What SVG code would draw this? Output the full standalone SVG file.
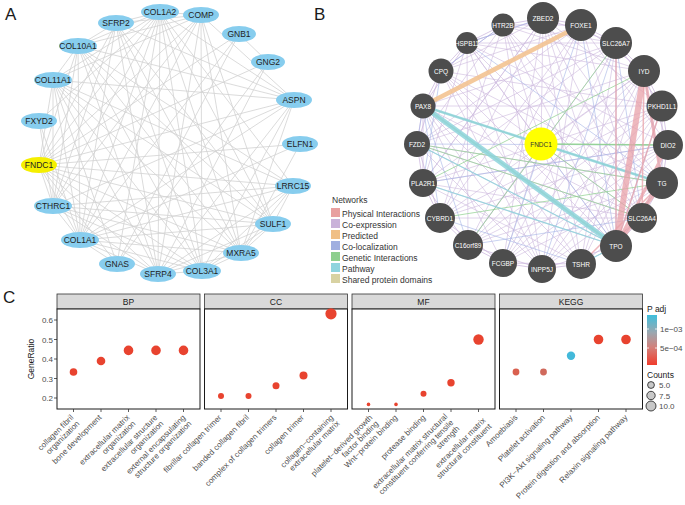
<svg xmlns="http://www.w3.org/2000/svg" width="685" height="505" viewBox="0 0 685 505">
<style>
text{font-family:"Liberation Sans",Arial,sans-serif}
.pl{font-size:17px;fill:#1a1a1a}
.ea{stroke:#d2d2d2;stroke-width:0.8;fill:none}
.na{fill:#87cdee}
.ta{font-size:8.5px;fill:#222;text-anchor:middle}
.nb{fill:#4d4d4d}
.tb{font-size:6.5px;fill:#fff;text-anchor:middle}
.lg{font-size:8.5px;fill:#333}
.ax{font-size:8px;fill:#4d4d4d}
.xl{font-size:8px;fill:#4d4d4d;text-anchor:end}
.strip{fill:#d9d9d9;stroke:#333;stroke-width:0.8}
.panel{fill:#fff;stroke:#1a1a1a;stroke-width:1}
.st{font-size:8.5px;fill:#1a1a1a;text-anchor:middle}
.tk{stroke:#333;stroke-width:0.8}
.pt{fill:#e8432f}
</style>
<defs>
<linearGradient id="pg" x1="0" y1="0" x2="0" y2="1">
<stop offset="0" stop-color="#3fbfdc"/>
<stop offset="0.35" stop-color="#9aa7b0"/>
<stop offset="0.65" stop-color="#d3807a"/>
<stop offset="1" stop-color="#f03c2c"/>
</linearGradient>
</defs>
<rect width="685" height="505" fill="#fff"/>
<text class="pl" x="5" y="20">A</text>
<text class="pl" x="314" y="20">B</text>
<text class="pl" x="3" y="303">C</text>

<!-- Panel A connectors -->
<g id="edges-a" class="ea">
<path d="M160 12L201 15M160 12L116 23M160 12L78 46M160 12L53 80M160 12L39 165M160 12L53 206M160 12L80 240M160 12L117 264M160 12L158 274M160 12L202 271M160 12L241 253M160 12L273 224M160 12L293 186M160 12L294 100M160 12L39 121"/>
<path d="M201 15L116 23M201 15L78 46M201 15L53 80M201 15L39 165M201 15L53 206M201 15L80 240M201 15L158 274M201 15L202 271M201 15L241 253M201 15L294 100M201 15L273 224"/>
<path d="M116 23L78 46M116 23L39 165M116 23L80 240M116 23L158 274M116 23L202 271M116 23L241 253M116 23L294 100M116 23L53 206M116 23L273 224"/>
<path d="M239 34L268 62M239 34L117 264M239 34L39 165M239 34L80 240M268 62L117 264M268 62L39 165M268 62L158 274"/>
<path d="M78 46L53 80M78 46L39 165M78 46L80 240M78 46L202 271M78 46L241 253M78 46L273 224M78 46L293 186M78 46L294 100M78 46L158 274M78 46L53 206"/>
<path d="M53 80L39 165M53 80L53 206M53 80L80 240M53 80L202 271M53 80L241 253M53 80L273 224M53 80L294 100M53 80L293 186M53 80L158 274M53 80L117 264"/>
<path d="M294 100L39 165M294 100L53 206M294 100L80 240M294 100L202 271M294 100L158 274M294 100L241 253"/>
<path d="M39 121L80 240M39 121L53 206M300 144L39 165M300 144L80 240M300 144L241 253"/>
<path d="M39 165L293 186M39 165L53 206M39 165L273 224M39 165L80 240M39 165L241 253M39 165L202 271M39 165L158 274M39 165L117 264"/>
<path d="M293 186L53 206M293 186L80 240M293 186L202 271M293 186L158 274M293 186L241 253M293 186L273 224"/>
<path d="M53 206L273 224M53 206L80 240M53 206L241 253M53 206L202 271M53 206L158 274"/>
<path d="M273 224L80 240M273 224L202 271M273 224L158 274M273 224L241 253M80 240L241 253M80 240L202 271M80 240L158 274M80 240L117 264M241 253L202 271M241 253L158 274M158 274L202 271"/>
</g>

<!-- Panel A nodes -->
<g id="a-COL1A2"><ellipse class="na" cx="160" cy="12" rx="19" ry="8"/><text class="ta" x="160" y="15">COL1A2</text></g>
<g id="a-COMP"><ellipse class="na" cx="201" cy="15" rx="18" ry="8"/><text class="ta" x="201" y="18">COMP</text></g>
<g id="a-SFRP2"><ellipse class="na" cx="116" cy="23" rx="18" ry="8"/><text class="ta" x="116" y="26">SFRP2</text></g>
<g id="a-GNB1"><ellipse class="na" cx="239" cy="34" rx="17" ry="8"/><text class="ta" x="239" y="37">GNB1</text></g>
<g id="a-COL10A1"><ellipse class="na" cx="78" cy="46" rx="19" ry="8"/><text class="ta" x="78" y="49">COL10A1</text></g>
<g id="a-GNG2"><ellipse class="na" cx="268" cy="62" rx="17" ry="8"/><text class="ta" x="268" y="65">GNG2</text></g>
<g id="a-COL11A1"><ellipse class="na" cx="53" cy="80" rx="19" ry="8"/><text class="ta" x="53" y="83">COL11A1</text></g>
<g id="a-ASPN"><ellipse class="na" cx="294" cy="100" rx="18" ry="8"/><text class="ta" x="294" y="103">ASPN</text></g>
<g id="a-FXYD2"><ellipse class="na" cx="39" cy="121" rx="18" ry="8"/><text class="ta" x="39" y="124">FXYD2</text></g>
<g id="a-ELFN1"><ellipse class="na" cx="300" cy="144" rx="18" ry="8"/><text class="ta" x="300" y="147">ELFN1</text></g>
<g id="a-FNDC1"><ellipse cx="39" cy="165" rx="18" ry="8" fill="#f5ef00"/><text class="ta" x="39" y="168">FNDC1</text></g>
<g id="a-LRRC15"><ellipse class="na" cx="293" cy="186" rx="18" ry="8"/><text class="ta" x="293" y="189">LRRC15</text></g>
<g id="a-CTHRC1"><ellipse class="na" cx="53" cy="206" rx="19" ry="8"/><text class="ta" x="53" y="209">CTHRC1</text></g>
<g id="a-SULF1"><ellipse class="na" cx="273" cy="224" rx="18" ry="8"/><text class="ta" x="273" y="227">SULF1</text></g>
<g id="a-COL1A1"><ellipse class="na" cx="80" cy="240" rx="19" ry="8"/><text class="ta" x="80" y="243">COL1A1</text></g>
<g id="a-MXRA5"><ellipse class="na" cx="241" cy="253" rx="18" ry="8"/><text class="ta" x="241" y="256">MXRA5</text></g>
<g id="a-GNAS"><ellipse class="na" cx="117" cy="264" rx="18" ry="8"/><text class="ta" x="117" y="267">GNAS</text></g>
<g id="a-SFRP4"><ellipse class="na" cx="158" cy="274" rx="18" ry="8"/><text class="ta" x="158" y="277">SFRP4</text></g>
<g id="a-COL3A1"><ellipse class="na" cx="202" cy="271" rx="19" ry="8"/><text class="ta" x="202" y="274">COL3A1</text></g>

<!-- Panel B connectors -->
<g id="edges-b" fill="none">
<path stroke="#cdb8de" stroke-width="0.7" opacity="0.85" d="M503 25L616 43M503 25L642 218M503 25L542 269M503 25L440 218M503 25L417 144M503 25L616 246M543 18L503 263M543 18L440 218M543 18L662 183M543 18L581 264M543 18L441 71M543 18L423 183M581 25L542 269M581 25L468 245M581 25L417 144M581 25L642 218M581 25L441 71M616 43L503 263M616 43L423 183M616 43L423 106M616 43L467 43M616 43L581 264M644 71L468 245M644 71L417 144M644 71L467 43M644 71L542 269M644 71L503 25M662 106L440 218M662 106L441 71M662 106L503 263M662 106L543 18M662 106L581 264M668 145L423 183M668 145L467 43M668 145L468 245M668 145L581 25M668 145L542 269M662 183L417 144M662 183L441 71M662 183L503 263M662 183L503 25M642 218L423 106M642 218L467 43M642 218L440 218M642 218L543 18M616 246L441 71M616 246L423 183M616 246L467 43M616 246L543 18M581 264L423 106M581 264L423 183M581 264L503 25M581 264L644 71M542 269L441 71M542 269L417 144M542 269L662 183M542 269L662 106M503 263L644 71M503 263L423 106M503 263L668 145M468 245L616 43M468 245L662 106M468 245L662 183M440 218L581 25M440 218L668 145M440 218L644 71M423 183L662 106M423 183L543 18M423 183L642 218M417 144L616 43M417 144L642 218M417 144L616 246M423 106L662 106M423 106L542 269M441 71L581 264M441 71L642 218M467 43L542 269M467 43L468 245M467 43L423 183M541 144L543 18M541 144L467 43M541 144L468 245M541 144L644 71M541 144L503 263M541 144L423 106"/>
<path stroke="#cdb8de" stroke-width="0.9" opacity="0.85" d="M503 25L543 18L581 25L616 43L644 71L662 106L668 145L662 183L642 218L616 246L581 264L542 269L503 263L468 245L440 218L423 183L417 144L423 106L441 71L467 43Z M503 25L581 25M581 25L644 71M644 71L668 145M668 145L642 218M642 218L581 264M581 264L503 263M503 263L440 218M440 218L417 144M417 144L441 71M441 71L503 25M543 18L616 43M616 43L662 106M662 106L662 183M662 183L616 246M616 246L542 269M542 269L468 245M468 245L423 183M423 183L423 106M423 106L467 43M467 43L543 18"/>
<path stroke="#a3b3e6" stroke-width="0.7" opacity="0.85" d="M423 106L440 218M423 106L417 144M423 106L468 245M616 43L642 218M616 43L616 246M644 71L662 183M662 106L616 246M543 18L467 43M581 25L616 246M441 71L423 183M541 144L662 183M541 144L616 246M423 183L668 145M440 218L581 264M417 144L668 145M503 25L441 71M542 269L616 43M503 263L581 25M468 245L642 218M467 43L662 183"/>
<path stroke="#8fd18f" stroke-width="0.8" opacity="0.9" d="M423 106L662 183M541 144L668 145M417 144L662 183M440 218L662 183M423 183L644 71M468 245L616 43M642 218L417 144M541 144L642 218"/>
<path stroke="#8fd18f" stroke-width="1.6" opacity="0.7" d="M423 106L616 246M541 144L668 145"/>
<path stroke="#8ed3dc" stroke-width="5" opacity="0.85" d="M423 106L616 246"/>
<path stroke="#8ed3dc" stroke-width="2.5" opacity="0.85" d="M423 106L662 183M541 144L662 183"/>
<path stroke="#8ed3dc" stroke-width="1.2" opacity="0.85" d="M417 144L616 246M581 264L616 246M423 183L616 246"/>
<path stroke="#e8a0a8" stroke-width="6" opacity="0.75" d="M644 71L616 246"/>
<path stroke="#e8a0a8" stroke-width="4" opacity="0.75" d="M662 183L616 246"/>
<path stroke="#e8a0a8" stroke-width="3" opacity="0.75" d="M668 145L616 246M644 71L662 183"/>
<path stroke="#e8a0a8" stroke-width="1.5" opacity="0.75" d="M662 106L616 246M644 71L642 218M616 43L616 246M662 183L581 264"/>
<path stroke="#f3c391" stroke-width="4.5" opacity="0.9" d="M423 106L581 25"/>
</g>

<!-- Panel B nodes -->
<g id="b-FNDC1"><circle cx="541" cy="144" r="16.5" fill="#ffff00"/><text class="tb" x="541" y="146.5" fill="#333" style="fill:#333">FNDC1</text></g>
<g id="b-HTR2B"><circle class="nb" cx="503" cy="25" r="11.5"/><text class="tb" x="503" y="27.5">HTR2B</text></g>
<g id="b-ZBED2"><circle class="nb" cx="543" cy="18" r="16"/><text class="tb" x="543" y="20.5">ZBED2</text></g>
<g id="b-FOXE1"><circle class="nb" cx="581" cy="25" r="16"/><text class="tb" x="581" y="27.5">FOXE1</text></g>
<g id="b-SLC26A7"><circle class="nb" cx="616" cy="43" r="16"/><text class="tb" x="616" y="45.5">SLC26A7</text></g>
<g id="b-IYD"><circle class="nb" cx="644" cy="71" r="16"/><text class="tb" x="644" y="73.5">IYD</text></g>
<g id="b-PKHD1L1"><circle class="nb" cx="662" cy="106" r="15.5"/><text class="tb" x="662" y="108.5">PKHD1L1</text></g>
<g id="b-DIO2"><circle class="nb" cx="668" cy="145" r="15"/><text class="tb" x="668" y="147.5">DIO2</text></g>
<g id="b-TG"><circle class="nb" cx="662" cy="183" r="16"/><text class="tb" x="662" y="185.5">TG</text></g>
<g id="b-SLC26A4"><circle class="nb" cx="642" cy="218" r="15"/><text class="tb" x="642" y="220.5">SLC26A4</text></g>
<g id="b-TPO"><circle class="nb" cx="616" cy="246" r="16"/><text class="tb" x="616" y="248.5">TPO</text></g>
<g id="b-TSHR"><circle class="nb" cx="581" cy="264" r="15"/><text class="tb" x="581" y="266.5">TSHR</text></g>
<g id="b-INPP5J"><circle class="nb" cx="542" cy="269" r="14"/><text class="tb" x="542" y="271.5">INPP5J</text></g>
<g id="b-FCGBP"><circle class="nb" cx="503" cy="263" r="14"/><text class="tb" x="503" y="265.5">FCGBP</text></g>
<g id="b-C16orf89"><circle class="nb" cx="468" cy="245" r="15"/><text class="tb" x="468" y="247.5">C16orf89</text></g>
<g id="b-CYBRD1"><circle class="nb" cx="440" cy="218" r="15"/><text class="tb" x="440" y="220.5">CYBRD1</text></g>
<g id="b-PLA2R1"><circle class="nb" cx="423" cy="183" r="14"/><text class="tb" x="423" y="185.5">PLA2R1</text></g>
<g id="b-FZD2"><circle class="nb" cx="417" cy="144" r="13"/><text class="tb" x="417" y="146.5">FZD2</text></g>
<g id="b-PAX8"><circle class="nb" cx="423" cy="106" r="12.5"/><text class="tb" x="423" y="108.5">PAX8</text></g>
<g id="b-CPQ"><circle class="nb" cx="441" cy="71" r="12.5"/><text class="tb" x="441" y="73.5">CPQ</text></g>
<g id="b-HSPB11"><circle class="nb" cx="467" cy="43" r="11"/><text class="tb" x="467" y="45.5">HSPB11</text></g>

<!-- Panel B legend -->
<g id="b-legend">
<text class="lg" x="332" y="203">Networks</text>
<rect x="331" y="208" width="9" height="9" fill="#e8a0a0"/><text class="lg" x="342" y="216.5">Physical Interactions</text>
<rect x="331" y="219" width="9" height="9" fill="#c9b2d9"/><text class="lg" x="342" y="227.5">Co-expression</text>
<rect x="331" y="230" width="9" height="9" fill="#f0bf86"/><text class="lg" x="342" y="238.5">Predicted</text>
<rect x="331" y="241" width="9" height="9" fill="#a0afe0"/><text class="lg" x="342" y="249.5">Co-localization</text>
<rect x="331" y="252" width="9" height="9" fill="#8ecf8e"/><text class="lg" x="342" y="260.5">Genetic Interactions</text>
<rect x="331" y="263" width="9" height="9" fill="#8fd4de"/><text class="lg" x="342" y="271.5">Pathway</text>
<rect x="331" y="274" width="9" height="9" fill="#d8d2a2"/><text class="lg" x="342" y="282.5">Shared protein domains</text>
</g>

<!-- Panel C -->
<g id="c-axis">
<text class="ax" x="53" y="323" text-anchor="end">0.6</text>
<text class="ax" x="53" y="342.5" text-anchor="end">0.5</text>
<text class="ax" x="53" y="362" text-anchor="end">0.4</text>
<text class="ax" x="53" y="381.5" text-anchor="end">0.3</text>
<text class="ax" x="53" y="401" text-anchor="end">0.2</text>
<path class="tk" d="M54 320H57M54 339.5H57M54 359H57M54 378.5H57M54 398H57"/>
<text x="34" y="359" font-size="8.5" fill="#1a1a1a" text-anchor="middle" transform="rotate(-90 34 359)">GeneRatio</text>
</g>

<g id="c-BP">
<rect class="strip" x="57" y="294" width="143" height="15"/><text class="st" x="128.5" y="304.5">BP</text>
<rect class="panel" x="57" y="309" width="143" height="100"/>
<path class="tk" d="M73.5 409v3M101 409v3M128.5 409v3M156 409v3M183.5 409v3"/>
<circle class="pt" cx="73.5" cy="372" r="3.8"/>
<circle class="pt" cx="101" cy="361" r="4.3"/>
<circle class="pt" cx="128.5" cy="350.4" r="4.8"/>
<circle class="pt" cx="156" cy="350.4" r="4.8"/>
<circle class="pt" cx="183.5" cy="350.4" r="4.8"/>
<g transform="translate(74 418) rotate(-45)"><text class="xl">collagen fibril</text><text class="xl" y="8.5">organization</text></g>
<g transform="translate(102 418) rotate(-45)"><text class="xl">bone development</text></g>
<g transform="translate(130 418) rotate(-45)"><text class="xl">extracellular matrix</text><text class="xl" y="8.5">organization</text></g>
<g transform="translate(158 418) rotate(-45)"><text class="xl">extracellular structure</text><text class="xl" y="8.5">organization</text></g>
<g transform="translate(186 418) rotate(-45)"><text class="xl">external encapsulating</text><text class="xl" y="8.5">structure organization</text></g>
</g>

<g id="c-CC">
<rect class="strip" x="204.5" y="294" width="143" height="15"/><text class="st" x="276" y="304.5">CC</text>
<rect class="panel" x="204.5" y="309" width="143" height="100"/>
<path class="tk" d="M221 409v3M248.5 409v3M276 409v3M303.5 409v3M331 409v3"/>
<circle class="pt" cx="221" cy="395.9" r="3"/>
<circle class="pt" cx="248.5" cy="395.9" r="3"/>
<circle class="pt" cx="276" cy="385.7" r="3.5"/>
<circle class="pt" cx="303.5" cy="375.4" r="4"/>
<circle class="pt" cx="331" cy="313.8" r="5.6"/>
<g transform="translate(222 418) rotate(-45)"><text class="xl">fibrillar collagen trimer</text></g>
<g transform="translate(249.5 418) rotate(-45)"><text class="xl">banded collagen fibril</text></g>
<g transform="translate(277 418) rotate(-45)"><text class="xl">complex of collagen trimers</text></g>
<g transform="translate(304.5 418) rotate(-45)"><text class="xl">collagen trimer</text></g>
<g transform="translate(334 418) rotate(-45)"><text class="xl">collagen−containing</text><text class="xl" y="8.5">extracellular matrix</text></g>
</g>

<g id="c-MF">
<rect class="strip" x="352" y="294" width="143" height="15"/><text class="st" x="423.5" y="304.5">MF</text>
<rect class="panel" x="352" y="309" width="143" height="100"/>
<path class="tk" d="M368.5 409v3M396 409v3M423.5 409v3M451 409v3M478.5 409v3"/>
<circle class="pt" cx="368.5" cy="404.4" r="1.8"/>
<circle class="pt" cx="396" cy="404.4" r="1.8"/>
<circle class="pt" cx="423.5" cy="393.7" r="3"/>
<circle class="pt" cx="451" cy="382.8" r="3.7"/>
<circle class="pt" cx="478.5" cy="339.5" r="5.2"/>
<g transform="translate(373 418) rotate(-45)"><text class="xl">platelet−derived growth</text><text class="xl" y="8.5">factor binding</text></g>
<g transform="translate(398 418) rotate(-45)"><text class="xl">Wnt−protein binding</text></g>
<g transform="translate(426 418) rotate(-45)"><text class="xl">protease binding</text></g>
<g transform="translate(448 417) rotate(-45)"><text class="xl">extracellular matrix structural</text><text class="xl" y="8.5">constituent conferring tensile</text><text class="xl" y="17">strength</text></g>
<g transform="translate(486 421) rotate(-45)"><text class="xl">extracellular matrix</text><text class="xl" y="8.5">structural constituent</text></g>
</g>

<g id="c-KEGG">
<rect class="strip" x="499.5" y="294" width="143" height="15"/><text class="st" x="571" y="304.5">KEGG</text>
<rect class="panel" x="499.5" y="309" width="143" height="100"/>
<path class="tk" d="M516 409v3M543.5 409v3M571 409v3M598.5 409v3M626 409v3"/>
<circle cx="516" cy="372" r="3.4" fill="#d9604f"/>
<circle cx="543.5" cy="372" r="3.4" fill="#d0695c"/>
<circle cx="571" cy="355.7" r="4.2" fill="#43b9da"/>
<circle class="pt" cx="598.5" cy="339.5" r="4.8"/>
<circle class="pt" cx="626" cy="339.5" r="4.8"/>
<g transform="translate(518 418) rotate(-45)"><text class="xl">Amoebiasis</text></g>
<g transform="translate(545.5 418) rotate(-45)"><text class="xl">Platelet activation</text></g>
<g transform="translate(573 418) rotate(-45)"><text class="xl">PI3K−Akt signaling pathway</text></g>
<g transform="translate(600.5 418) rotate(-45)"><text class="xl">Protein digestion and absorption</text></g>
<g transform="translate(628 418) rotate(-45)"><text class="xl">Relaxin signaling pathway</text></g>
</g>

<g id="c-legend">
<text x="647" y="312" font-size="8.5" fill="#1a1a1a">P adj</text>
<rect x="647" y="315" width="10" height="50" fill="url(#pg)"/>
<path d="M647 329h2M655 329h2M647 348h2M655 348h2" stroke="#fff" stroke-width="0.8"/>
<text class="ax" x="660" y="332">1e−03</text>
<text class="ax" x="660" y="351">5e−04</text>
<text x="647" y="378" font-size="8.5" fill="#1a1a1a">Counts</text>
<circle cx="651" cy="385" r="3.4" fill="#c8c8c8" stroke="#1a1a1a" stroke-width="0.8"/>
<circle cx="651" cy="395.5" r="4.2" fill="#c8c8c8" stroke="#1a1a1a" stroke-width="0.8"/>
<circle cx="651" cy="406" r="5" fill="#c8c8c8" stroke="#1a1a1a" stroke-width="0.8"/>
<text class="ax" x="659" y="388">5.0</text>
<text class="ax" x="659" y="398.5">7.5</text>
<text class="ax" x="659" y="409">10.0</text>
</g>
</svg>
